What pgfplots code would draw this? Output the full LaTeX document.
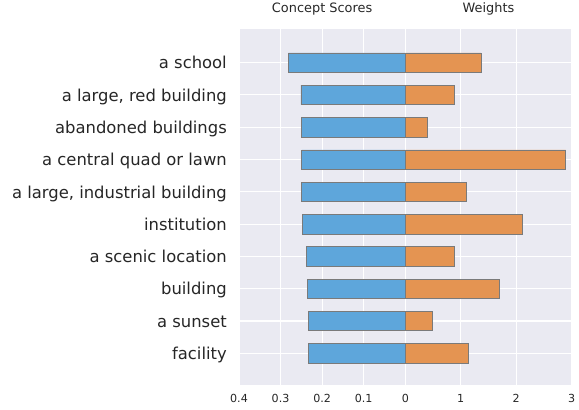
\documentclass[border=0pt]{standalone}
\usepackage{fontspec}
\setmainfont{DejaVu Sans}
\usepackage{pgfplots}
\usepackage{pgfplotstable}
\pgfplotsset{compat=1.18}
\definecolor{bg}{HTML}{EAEAF2}
\definecolor{cblue}{RGB}{94,166,219}
\definecolor{corange}{RGB}{228,148,82}
\definecolor{txt}{HTML}{262626}
\definecolor{edge}{HTML}{7A7A7A}

\pgfplotstableread{
idx score weight
0 0.281 1.364
1 0.251 0.877
2 0.250 0.403
3 0.249 2.89
4 0.249 1.106
5 0.248 2.115
6 0.238 0.877
7 0.236 1.694
8 0.234 0.48
9 0.233 1.142
}\data

\pgfplotsset{
  panel/.style={
    scale only axis, width=166.3pt, height=356pt,
    axis background/.style={fill=bg},
    axis line style={draw=none},
    major tick length=0pt,
    grid=major,
    major grid style={white, line width=1.1pt},
    y dir=reverse, ymin=-1.04, ymax=9.98,
    ytick={0,...,9},
    xticklabel style={font=\fontsize{11.1}{12}\selectfont, text=txt, anchor=base, yshift=-17pt, inner sep=0pt},
    yticklabel style={font=\fontsize{16.4}{18}\selectfont, text=txt, anchor=base east, inner sep=0pt, xshift=-12pt, yshift=-6.2pt},
    title style={font=\fontsize{12.9}{14}\selectfont, text=txt, at={(0.5,1)}, anchor=base, yshift=10.7pt},
    clip=false,
  },
  barsty/.style={xbar, bar width=0.6, bar shift=0pt, draw=edge, line width=0.6pt},
}

\begin{document}
\begin{tikzpicture}
\useasboundingbox (0,0) rectangle (579pt,410pt);
\begin{axis}[panel, at={(239pt,25pt)}, anchor=south west,
  x dir=reverse, xmin=0, xmax=0.4,
  xtick={0,0.1,0.2,0.3,0.4}, xticklabels={0,0.1,0.2,0.3,0.4},
  yticklabels={a school,{a large, red building},abandoned buildings,a central quad or lawn,{a large, industrial building},institution,a scenic location,building,a sunset,facility},
  title={Concept Scores}]
  \addplot[dashed, gray!35, line width=0.8pt] coordinates {(0,-1.04) (0,9.98)};
  \addplot[barsty, fill=cblue] table[x=score, y=idx] {\data};
\end{axis}
\begin{axis}[panel, at={(405.3pt,25pt)}, anchor=south west,
  xmin=0, xmax=3,
  xtick={0,1,2,3}, xticklabels={,1,2,3},
  yticklabels={},
  title={Weights}]
  \addplot[barsty, fill=corange] table[x=weight, y=idx] {\data};
\end{axis}
\end{tikzpicture}
\end{document}
